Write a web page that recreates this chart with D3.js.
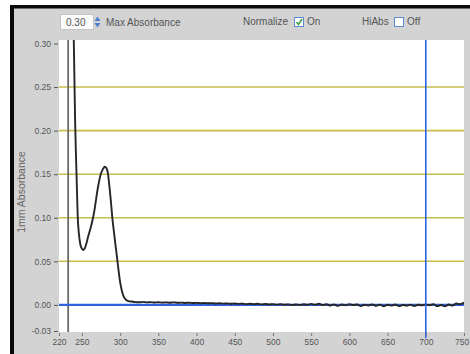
<!DOCTYPE html>
<html>
<head>
<meta charset="utf-8">
<script src="https://cdn.jsdelivr.net/npm/d3@7/dist/d3.min.js"></script>
<style>
  body { margin: 0; background: #ffffff; }
  svg { display: block; font-family: "Liberation Sans", Arial, sans-serif; }
</style>
</head>
<body>
<svg id="chart" width="470" height="354"></svg>
<script>
// Absorbance spectrum (wavelength nm, absorbance per 1 mm path)
const wavelengths = [232, 236, 239, 240, 241, 242, 243, 244.5, 246, 248, 250, 252, 254, 256, 258, 261, 263, 265, 267, 269, 271, 273, 275, 277, 279, 280, 282, 284, 286, 288, 290, 292, 294, 296, 298, 300, 302, 304, 306, 308, 311, 315,
  320, 325, 330, 335, 340, 345, 350, 355, 360, 365, 370, 375, 380, 385, 390, 395, 400, 405, 410, 415, 420, 425, 430, 435, 440, 445, 450, 455, 460, 465, 470, 475, 480, 485, 490, 495, 500, 505, 510, 515, 520, 525, 530, 535, 540, 545, 550, 555, 560, 565, 570, 575, 580, 585, 590, 595, 600, 605, 610, 615, 620, 625, 630, 635, 640, 645, 650, 655, 660, 665, 670, 675, 680, 685, 690, 695, 700, 705, 710, 715, 720, 725, 730, 735, 740, 745, 750];
const absorbance = [0.42, 0.37, 0.32, 0.27, 0.215, 0.178, 0.148, 0.101, 0.082, 0.069, 0.0645, 0.063, 0.0655, 0.071, 0.078, 0.087, 0.094, 0.102, 0.112, 0.124, 0.135, 0.144, 0.151, 0.155, 0.158, 0.1585, 0.157, 0.151, 0.136, 0.118, 0.098, 0.083, 0.068, 0.054, 0.039, 0.026, 0.017, 0.011, 0.0075, 0.0055, 0.0043, 0.0038,
  0.0032, 0.0030, 0.0034, 0.0029, 0.0031, 0.0027, 0.0030, 0.0026, 0.0028, 0.0025, 0.0029, 0.0024, 0.0026, 0.0022, 0.0025, 0.0021, 0.0023, 0.0019, 0.0022, 0.0018, 0.0020, 0.0016, 0.0019, 0.0014, 0.0017, 0.0012, 0.0016, 0.0011, 0.0014, 0.0009, 0.0013, 0.0008, 0.0012, 0.0006, 0.0010, 0.0004, 0.0009, 0.0003, 0.0008, 0.0001, 0.0006, -0.0002, 0.0005, -0.0001, 0.0007, 0.0002, 0.0011, 0.0001, 0.0013, -0.0003, 0.0009, -0.0008, 0.0006, -0.0012, 0.0004, -0.0006, 0.0009, -0.0003, 0.0005, -0.0014, 0.0002, -0.0007, 0.0006, -0.0011, 0.0003, -0.0016, 0.0001, -0.0009, 0.0004, -0.0014, -0.0002, -0.0008, 0.0003, -0.0013, 0.0002, -0.0005, 0.0006, -0.0004, 0.0008, -0.0015, -0.0002, -0.0017, 0.0004, -0.0008, 0.0015, 0.0009, 0.0026];

// Axis ticks
const xTicks = [220, 250, 300, 350, 400, 450, 500, 550, 600, 650, 700, 750];
const yTicks = [0.30, 0.25, 0.20, 0.15, 0.10, 0.05, 0.00, -0.03];
const yTickLabels = ["0.30", "0.25", "0.20", "0.15", "0.10", "0.05", "0.00", "-0.03"];
const gridLevels = [0.25, 0.20, 0.15, 0.10, 0.05];

// Cursors and front-panel settings
const cursorLeft = 232;
const cursorRight = 700;
const maxAbsorbance = "0.30";
const yTitle = "1mm Absorbance";

const svg = d3.select("#chart");
const plot = { left: 59, right: 464, top: 40, bottom: 332 };

const x = d3.scaleLinear().domain([220, 750]).range([plot.left, plot.right]);
const y = d3.scaleLinear().domain([-0.03, 0.30]).range([331, 43.5]);

// Panel background and frame
svg.append("rect").attr("x", 10).attr("y", 5).attr("width", 460).attr("height", 349).attr("fill", "#d3d3d3");
svg.append("rect").attr("x", 10).attr("y", 5).attr("width", 460).attr("height", 3.5).attr("fill", "#0a0a0a");
svg.append("rect").attr("x", 10).attr("y", 5).attr("width", 4).attr("height", 349).attr("fill", "#0a0a0a");

// Header controls
const hdr = svg.append("g").attr("font-size", 10).attr("fill", "#555");
hdr.append("rect").attr("x", 60.5).attr("y", 14.5).attr("width", 33).attr("height", 15)
  .attr("fill", "#fbfbfb").attr("stroke", "#c4c4c4");
hdr.append("text").attr("x", 66).attr("y", 25.5).text(maxAbsorbance);
hdr.append("path").attr("d", "M94.5,21 L97.5,16.5 L100.5,21 Z").attr("fill", "#4a7fd0");
hdr.append("path").attr("d", "M94.5,23 L97.5,27.5 L100.5,23 Z").attr("fill", "#4a7fd0");
hdr.append("text").attr("x", 106).attr("y", 26).text("Max Absorbance");

hdr.append("text").attr("x", 243).attr("y", 25).text("Normalize");
hdr.append("rect").attr("x", 294.5).attr("y", 17.5).attr("width", 9).attr("height", 9)
  .attr("fill", "#ffffff").attr("stroke", "#5a8ad0");
hdr.append("path").attr("d", "M296.5,22 L298.5,24.5 L302,19").attr("fill", "none")
  .attr("stroke", "#3aa040").attr("stroke-width", 1.6);
hdr.append("text").attr("x", 307).attr("y", 25).text("On");

hdr.append("text").attr("x", 362).attr("y", 25).text("HiAbs");
hdr.append("rect").attr("x", 394.5).attr("y", 17.5).attr("width", 9).attr("height", 9)
  .attr("fill", "#ffffff").attr("stroke", "#5a8ad0");
hdr.append("text").attr("x", 407).attr("y", 25).text("Off");

// Plot area
svg.append("rect").attr("x", plot.left).attr("y", plot.top)
  .attr("width", plot.right - plot.left).attr("height", plot.bottom - plot.top).attr("fill", "#ffffff");

svg.append("defs").append("clipPath").attr("id", "plotClip")
  .append("rect").attr("x", plot.left).attr("y", plot.top)
  .attr("width", plot.right - plot.left).attr("height", plot.bottom - plot.top);

const inner = svg.append("g").attr("clip-path", "url(#plotClip)");

// Horizontal grid
inner.selectAll("line.grid").data(gridLevels).join("line")
  .attr("class", "grid")
  .attr("x1", plot.left).attr("x2", plot.right)
  .attr("y1", d => y(d)).attr("y2", d => y(d))
  .attr("stroke", "#c6bd4c").attr("stroke-width", 1.6);

// Left cursor (gray)
inner.append("line")
  .attr("x1", x(cursorLeft)).attr("x2", x(cursorLeft))
  .attr("y1", plot.top).attr("y2", plot.bottom)
  .attr("stroke", "#6a6a6a").attr("stroke-width", 1.8);

// Zero line
inner.append("line")
  .attr("x1", plot.left).attr("x2", plot.right)
  .attr("y1", y(0)).attr("y2", y(0))
  .attr("stroke", "#2f62dc").attr("stroke-width", 2.2);

// Spectrum trace
const line = d3.line().x(d => x(d[0])).y(d => y(d[1])).curve(d3.curveMonotoneX);
inner.append("path")
  .datum(wavelengths.map((w, i) => [w, absorbance[i]]))
  .attr("d", line)
  .attr("fill", "none").attr("stroke", "#262626").attr("stroke-width", 1.9)
  .attr("stroke-linejoin", "round");

// Right cursor (blue), extends into the axis strip
svg.append("line")
  .attr("x1", x(cursorRight)).attr("x2", x(cursorRight))
  .attr("y1", plot.top).attr("y2", 338)
  .attr("stroke", "#2d62e6").attr("stroke-width", 1.6);

// Y axis
const yAxis = svg.append("g").attr("transform", `translate(${plot.left - 1},0)`)
  .call(d3.axisLeft(y).tickValues(yTicks).tickSize(4).tickPadding(3)
    .tickFormat((d, i) => yTickLabels[i]));
yAxis.select(".domain").remove();
yAxis.selectAll("line").attr("stroke", "#555");
yAxis.selectAll("text").attr("font-size", 8.5).attr("fill", "#555")
  .attr("font-family", "\"Liberation Sans\", Arial, sans-serif");

// X axis
const xAxis = svg.append("g").attr("transform", `translate(0,${plot.bottom + 1})`)
  .call(d3.axisBottom(x).tickValues(xTicks).tickSize(3).tickPadding(3).tickFormat(d3.format("d")));
xAxis.select(".domain").remove();
xAxis.selectAll("line").attr("stroke", "#777");
xAxis.selectAll("text").attr("font-size", 8.5).attr("fill", "#555")
  .attr("font-family", "\"Liberation Sans\", Arial, sans-serif");
// keep the last label inside the panel edge
xAxis.selectAll(".tick").filter(d => d === 750).select("text")
  .attr("text-anchor", "end").attr("dx", "0.55em");

// Y axis title
svg.append("text")
  .attr("transform", "translate(25,192) rotate(-90)")
  .attr("text-anchor", "middle").attr("font-size", 10.5).attr("fill", "#666")
  .text(yTitle);
</script>
</body>
</html>
